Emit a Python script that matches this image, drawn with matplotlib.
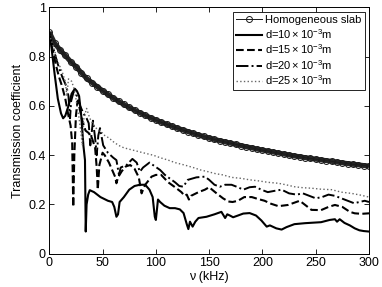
import matplotlib
matplotlib.use("Agg")
import matplotlib.pyplot as plt
import numpy as np

plt.rcParams["font.family"] = ["Liberation Sans", "DejaVu Sans"]
plt.rcParams["mathtext.fontset"] = "custom"
plt.rcParams["mathtext.rm"] = "Liberation Sans"
plt.rcParams["mathtext.it"] = "Liberation Sans:italic"

# homogeneous slab, read every 5 kHz
nu_h = np.arange(0, 301, 5)
t_h = [0.900, 0.855, 0.828, 0.805, 0.780, 0.760, 0.735, 0.712, 0.695, 0.678,
       0.662, 0.647, 0.632, 0.619, 0.606, 0.594, 0.583, 0.572, 0.562, 0.552,
       0.543, 0.534, 0.526, 0.518, 0.510, 0.503, 0.496, 0.489, 0.482, 0.476,
       0.470, 0.464, 0.459, 0.454, 0.449, 0.444, 0.439, 0.434, 0.430, 0.425,
       0.421, 0.417, 0.413, 0.409, 0.405, 0.401, 0.397, 0.394, 0.390, 0.387,
       0.384, 0.381, 0.378, 0.375, 0.372, 0.369, 0.366, 0.363, 0.361, 0.358,
       0.356]

# d = 10e-3 m
nu_10 = [0, 2, 5, 8, 11, 13, 15, 18, 21, 24, 26, 28, 30, 32, 33.5, 34.2, 35, 36.5,
         38, 42, 48, 55, 59, 61, 63, 64.5, 66, 70, 75, 80, 85, 90, 94, 97, 99, 100,
         102, 104, 108, 113, 118, 122.5, 126, 129, 130.5, 132, 134.5, 137, 140,
         147.5, 155, 161.5, 165, 167, 169.5, 172.5, 177, 182, 188, 194, 199, 204,
         207, 213, 218, 222.6, 230, 240, 247.5, 255, 263, 268, 270, 272.5, 277,
         282, 286.6, 291, 295, 300]
t_10 = [0.9, 0.84, 0.73, 0.63, 0.57, 0.55, 0.56, 0.6, 0.65, 0.67, 0.66, 0.64, 0.56,
        0.44, 0.38, 0.09, 0.2, 0.24, 0.258, 0.25, 0.23, 0.215, 0.21, 0.19, 0.15, 0.16,
        0.21, 0.23, 0.26, 0.275, 0.28, 0.28, 0.26, 0.23, 0.15, 0.137, 0.22, 0.21,
        0.195, 0.185, 0.185, 0.18, 0.165, 0.12, 0.10, 0.13, 0.11, 0.13, 0.145, 0.15,
        0.16, 0.17, 0.145, 0.16, 0.155, 0.148, 0.155, 0.163, 0.165, 0.155, 0.135,
        0.11, 0.115, 0.103, 0.098, 0.108, 0.12, 0.124, 0.126, 0.128, 0.137, 0.14,
        0.13, 0.14, 0.125, 0.115, 0.103, 0.095, 0.092, 0.09]

# d = 15e-3 m
nu_15 = [0, 3, 6, 9, 12, 15, 18, 20, 21.5, 22.5, 23.5, 25, 26.5, 28, 31, 34, 37, 40,
         43, 44.5, 45.5, 47, 50, 52, 56, 60, 62, 63, 64.5, 68, 72, 76, 80, 84, 86.6,
         88, 90, 96, 100, 105, 111.6, 118, 124, 127, 129, 131, 133, 140, 146, 150,
         157, 163, 168, 172, 177, 183, 190, 196, 202, 208, 215, 224, 235, 241, 246,
         255, 262, 268, 275, 282, 286.6, 293, 300]
t_15 = [0.89, 0.83, 0.77, 0.72, 0.68, 0.63, 0.56, 0.52, 0.45, 0.19, 0.40, 0.56, 0.62,
        0.60, 0.54, 0.50, 0.49, 0.47, 0.43, 0.35, 0.26, 0.36, 0.41, 0.40, 0.37, 0.33,
        0.31, 0.286, 0.31, 0.335, 0.355, 0.36, 0.345, 0.31, 0.245, 0.26, 0.28, 0.313,
        0.32, 0.32, 0.29, 0.27, 0.25, 0.235, 0.24, 0.22, 0.235, 0.25, 0.26, 0.27,
        0.245, 0.225, 0.212, 0.21, 0.215, 0.23, 0.23, 0.222, 0.215, 0.203, 0.193,
        0.198, 0.215, 0.195, 0.178, 0.177, 0.19, 0.198, 0.19, 0.17, 0.164, 0.162,
        0.164]

# d = 20e-3 m
nu_20 = [0, 4, 8, 12, 16, 18, 19.5, 20.5, 23, 26, 29, 32, 35, 37, 38.5, 40, 41, 43,
         44.5, 46, 47.6, 50.6, 55, 60, 63, 65.4, 67, 72.5, 78, 82, 85, 88, 94, 99,
         104, 108.5, 111.6, 118, 122, 125.7, 130, 138, 146, 150, 155, 160, 165, 171,
         177, 182, 188, 193, 199, 205, 211, 218, 225, 232, 238, 244, 250, 256, 262,
         268, 274, 280, 286, 291, 296, 300]
t_20 = [0.89, 0.83, 0.77, 0.72, 0.68, 0.64, 0.55, 0.62, 0.66, 0.64, 0.60, 0.57, 0.55,
        0.53, 0.44, 0.50, 0.54, 0.47, 0.40, 0.48, 0.51, 0.44, 0.41, 0.39, 0.38, 0.32,
        0.35, 0.36, 0.385, 0.37, 0.333, 0.35, 0.37, 0.355, 0.34, 0.32, 0.31, 0.29,
        0.275, 0.272, 0.30, 0.31, 0.313, 0.30, 0.28, 0.272, 0.28, 0.28, 0.27, 0.26,
        0.27, 0.272, 0.26, 0.25, 0.255, 0.26, 0.245, 0.24, 0.245, 0.235, 0.225,
        0.23, 0.24, 0.235, 0.225, 0.215, 0.205, 0.21, 0.215, 0.21]

# d = 25e-3 m
nu_25 = [0, 4, 8, 12, 15, 16.5, 18, 21, 24, 26, 28, 30, 31, 32.5, 35, 38, 42, 46, 50,
         52, 56, 60, 65, 70, 79, 88, 97.5, 104, 111.6, 118, 127, 135, 142, 149, 156,
         163, 171, 180, 188, 196, 205, 215, 222, 230, 238, 246, 255, 265, 274, 283.5,
         292, 300]
t_25 = [0.89, 0.84, 0.78, 0.74, 0.70, 0.64, 0.71, 0.70, 0.66, 0.60, 0.55, 0.48, 0.44,
        0.55, 0.59, 0.55, 0.52, 0.50, 0.49, 0.48, 0.47, 0.455, 0.44, 0.43, 0.42, 0.41,
        0.40, 0.39, 0.38, 0.37, 0.36, 0.35, 0.34, 0.333, 0.325, 0.32, 0.31, 0.306,
        0.30, 0.296, 0.29, 0.286, 0.28, 0.272, 0.268, 0.266, 0.262, 0.26, 0.25,
        0.245, 0.238, 0.23]

fig = plt.figure(figsize=(3.82, 2.87), dpi=100)
ax = fig.add_axes([0.129, 0.116, 0.837, 0.858])

ax.plot(nu_h, t_h, color="0.15", lw=3.6, solid_capstyle="butt")
ax.plot(nu_h, t_h, color="0.1", lw=0.7, marker="o", ms=4.3, mfc="none", mew=0.7,
        label="Homogeneous slab")
ax.plot(nu_10, t_10, "k-", lw=1.5, label=r"d=$10\times10^{-3}$m")
ax.plot(nu_15, t_15, "k--", lw=1.5, label=r"d=$15\times10^{-3}$m")
ax.plot(nu_20, t_20, "k-.", lw=1.4, label=r"d=$20\times10^{-3}$m")
ax.plot(nu_25, t_25, ":", color="0.4", lw=1.0, label=r"d=$25\times10^{-3}$m")

ax.set_xlim(0, 300)
ax.set_ylim(0, 1)
ax.set_xticks([0, 50, 100, 150, 200, 250, 300])
ax.set_yticks([0, 0.2, 0.4, 0.6, 0.8, 1])
ax.set_yticklabels(["0", "0.2", "0.4", "0.6", "0.8", "1"])
ax.tick_params(direction="in", top=True, right=True, labelsize=9, length=3.5,
               width=0.6, pad=2.5)
for s in ax.spines.values():
    s.set_linewidth(0.7)
ax.set_xlabel("ν (kHz)", fontsize=9, labelpad=1)
ax.set_ylabel("Transmission coefficient", fontsize=9, labelpad=3)

leg = ax.legend(loc="upper right", fontsize=8, handlelength=2.3, handletextpad=0.3,
                labelspacing=0.15, borderpad=0.3, borderaxespad=0.4, fancybox=False,
                framealpha=1, edgecolor="black")
leg.get_frame().set_linewidth(0.6)

fig.savefig("out.png", dpi=100)
